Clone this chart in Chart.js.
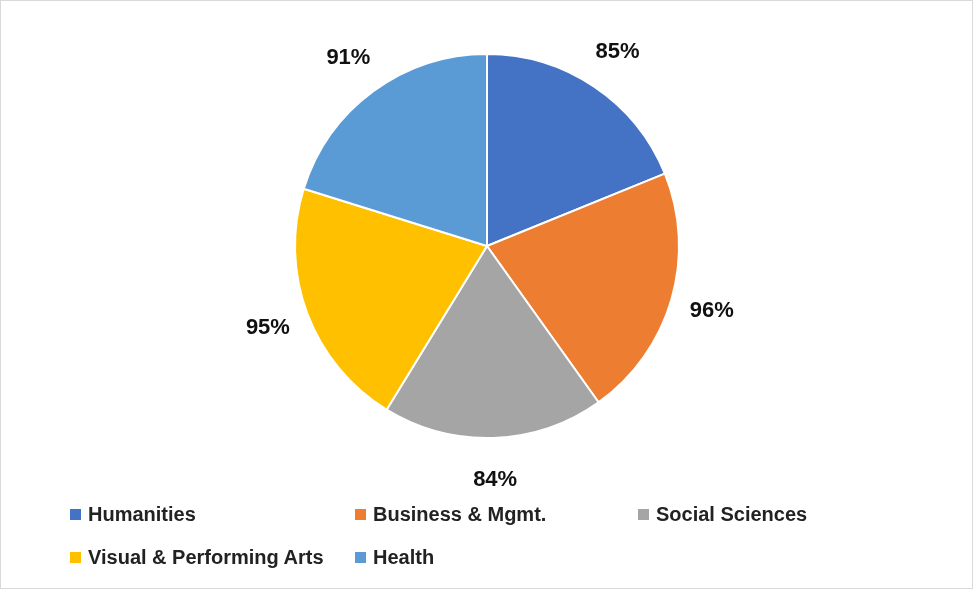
<!DOCTYPE html>
<html lang="en">
<head>
<meta charset="UTF-8">
<title>Pie</title>
<script src="https://cdn.jsdelivr.net/npm/chart.js"></script>
<style>
  html, body { margin: 0; padding: 0; background: #fff; }
  #wrap { position: relative; width: 973px; height: 589px; }
  #frame { position: absolute; left: 0; top: 0; width: 971px; height: 587px; border: 1px solid #d9d9d9; pointer-events: none; }
  .lg { position: absolute; font: bold 20px "Liberation Sans", Arial, sans-serif; color: #222; white-space: nowrap; }
  .lg span { display: inline-block; width: 11px; height: 11px; margin-right: 7px; vertical-align: 1px; }
</style>
</head>
<body>
<div id="wrap">
  <canvas id="pie" width="973" height="589"></canvas>
  <div id="legend"></div>
  <div id="frame"></div>
</div>
<script>
var categories = ['Humanities', 'Business & Mgmt.', 'Social Sciences', 'Visual & Performing Arts', 'Health'];
var values = [85, 96, 84, 95, 91];
var colors = ['#4472c4', '#ed7d31', '#a5a5a5', '#ffc000', '#5b9bd5'];
var legendPos = [[70, 503], [355, 503], [638, 503], [70, 546], [355, 546]];

var legend = document.getElementById('legend');
categories.forEach(function (c, i) {
    var d = document.createElement('div');
    d.className = 'lg';
    d.style.left = legendPos[i][0] + 'px';
    d.style.top = legendPos[i][1] + 'px';
    d.innerHTML = '<span style="background:' + colors[i] + '"></span>';
    d.appendChild(document.createTextNode(c));
    legend.appendChild(d);
});

// percent labels outside each slice
var outsideLabels = {
    id: 'outsideLabels',
    afterDatasetsDraw: function (chart) {
        var ctx = chart.ctx;
        var meta = chart.getDatasetMeta(0);
        ctx.save();
        ctx.font = 'bold 22px "Liberation Sans", Arial, sans-serif';
        ctx.fillStyle = '#111';
        ctx.textAlign = 'center';
        ctx.textBaseline = 'middle';
        meta.data.forEach(function (arc, i) {
            var mid = (arc.startAngle + arc.endAngle) / 2;
            var r = arc.outerRadius + 42;
            ctx.fillText(values[i] + '%', arc.x + Math.cos(mid) * r, arc.y + Math.sin(mid) * r);
        });
        ctx.restore();
    }
};

new Chart(document.getElementById('pie').getContext('2d'), {
    type: 'pie',
    data: {
        labels: categories,
        datasets: [{
            data: values,
            backgroundColor: colors,
            borderColor: '#fff',
            borderWidth: 2
        }]
    },
    options: {
        responsive: false,
        animation: false,
        layout: { padding: { top: 53, bottom: 150, left: 294, right: 293 } },
        plugins: { legend: { display: false }, tooltip: { enabled: false } }
    },
    plugins: [outsideLabels]
});
</script>
</body>
</html>
